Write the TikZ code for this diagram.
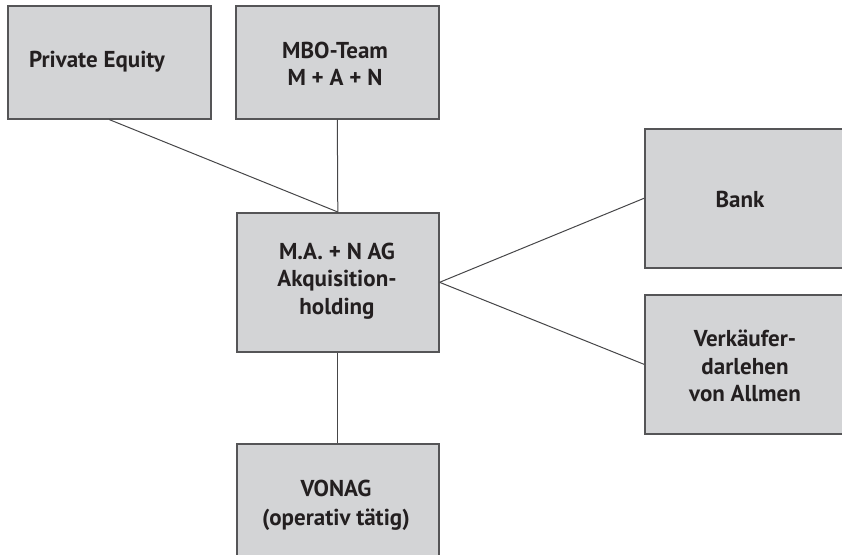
\documentclass[tikz,border=0pt]{standalone}
\usepackage{fontspec}
\setmainfont{PT Sans}
\definecolor{boxfill}{RGB}{211,212,214}
\definecolor{boxedge}{RGB}{85,85,87}
\definecolor{linkcol}{RGB}{70,70,72}
\definecolor{inkcol}{RGB}{35,31,32}
\begin{document}
\begin{tikzpicture}[x=1pt,y=-1pt,
  box/.style={draw=boxedge, line width=1.6pt, fill=boxfill,
    inner sep=0pt, anchor=north west},
  label/.style={text=inkcol, font=\bfseries\fontsize{23}{27.5}\selectfont,
    align=center, inner sep=0pt, anchor=center},
  link/.style={draw=linkcol, line width=1pt}]
\useasboundingbox (0,0) rectangle (842,554);
\clip (0,0) rectangle (842,554);
% boxes, given by their corners
\node[box, minimum width=203pt, minimum height=113pt] (pe) at (7,5) {};
\node[box, minimum width=203pt, minimum height=113pt] (mbo) at (235,5) {};
\node[box, minimum width=202pt, minimum height=139pt] (hold) at (236,212) {};
\node[box, minimum width=230pt, minimum height=139pt] (bank) at (644,128) {};
\node[box, minimum width=230pt, minimum height=139pt] (vk) at (644,294) {};
\node[box, minimum width=202pt, minimum height=140pt] (vonag) at (236,443) {};
% labels
\node[label] (tpe) at (97,62) {Private Equity};
\node[label] (tmbo) at (335,64) {MBO-Team\\M + A + N};
\node[label] (thold) at (337,281) {M.A. + N AG\\Akquisition-\\holding};
\node[label] (tbank) at (740,199) {Bank};
\node[label] (tvk) at (745,366) {Verkäufer-\\darlehen\\von Allmen};
\node[label] (tvonag) at (336,505) {VONAG\\[1.5pt](operativ tätig)};
% connectors
\draw[link] (pe.south) -- (hold.north);
\draw[link] (mbo.south) -- (hold.north);
\draw[link] (hold.east) -- (bank.west);
\draw[link] (hold.east) -- (vk.west);
\draw[link] (hold.south) -- (vonag.north);
\end{tikzpicture}
\end{document}
